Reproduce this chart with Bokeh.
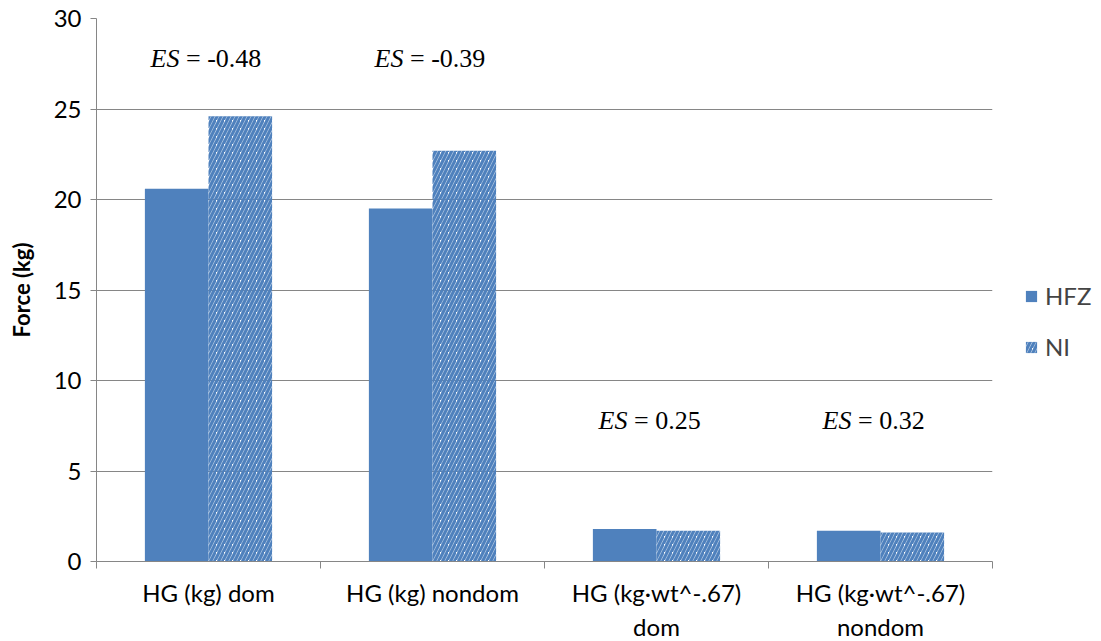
import numpy as np
from bokeh.plotting import figure
from bokeh.models import ColumnDataSource, FixedTicker, Legend, LegendItem, Range1d
from bokeh.core.properties import value
from bokeh.embed import file_html
from bokeh.resources import INLINE

categories = ["HG (kg) dom", "HG (kg) nondom", "HG (kg\u00b7wt^-.67)\ndom", "HG (kg\u00b7wt^-.67)\nnondom"]
hfz = [20.6, 19.5, 1.8, 1.7]
ni = [24.6, 22.7, 1.7, 1.6]
es_values = ["-0.48", "-0.39", "0.25", "0.32"]
es_y = [27.8, 27.8, 7.8, 7.8]

BLUE = "#4F81BD"
GRID = "#868686"
FONT = "Lato"
FS = "24px"

idx = np.arange(len(categories))
centers = idx + 0.5
bw = 0.284

p = figure(frame_width=896, frame_height=543, output_backend="svg", toolbar_location=None,
           x_range=Range1d(0, len(categories)), y_range=Range1d(0, 30),
           min_border_left=96, min_border_top=18, min_border_bottom=78, min_border_right=92)
p.outline_line_color = None
p.background_fill_color = "white"
p.border_fill_color = "white"

src = ColumnDataSource(dict(x_h=centers - bw / 2, x_n=centers + bw / 2, hfz=hfz, ni=ni))
r1 = p.vbar(x="x_h", top="hfz", width=bw, source=src, fill_color=BLUE, line_color=None)
r2 = p.vbar(x="x_n", top="ni", width=bw, source=src, fill_color="white", fill_alpha=0, line_color=None,
            hatch_pattern="/", hatch_color=BLUE, hatch_weight=3.2, hatch_scale=8)

es_src = ColumnDataSource(dict(x=centers, y=es_y, rest=["\u00a0=\u00a0" + v for v in es_values],
                               es=["ES"] * len(es_values)))
p.text(x="x", y="y", text="es", source=es_src, text_font=value("Liberation Serif"),
       text_font_style="italic", text_font_size="26px", text_align="right",
       text_baseline="middle", x_offset=-29)
p.text(x="x", y="y", text="rest", source=es_src, text_font=value("Liberation Serif"),
       text_font_size="26px", text_align="left", text_baseline="middle", x_offset=-29)

# axes
p.xaxis.ticker = FixedTicker(ticks=list(centers), minor_ticks=list(np.arange(len(categories) + 1)))
p.xaxis.major_label_overrides = {float(c): lab for c, lab in zip(centers, categories)}
p.xaxis.major_tick_line_color = None
p.xaxis.major_tick_out = 6
p.xaxis.minor_tick_line_color = GRID
p.xaxis.minor_tick_out = 7
p.xaxis.minor_tick_in = 0
p.xaxis.axis_line_color = GRID
p.xaxis.major_label_text_font = FONT
p.xaxis.major_label_text_font_size = FS
p.xaxis.major_label_text_color = "black"
p.xaxis.major_label_standoff = 9

p.yaxis.ticker = FixedTicker(ticks=[0, 5, 10, 15, 20, 25, 30])
p.yaxis.minor_tick_line_color = None
p.yaxis.major_tick_out = 6
p.yaxis.major_tick_in = 0
p.yaxis.major_tick_line_color = GRID
p.yaxis.axis_line_color = GRID
p.yaxis.major_label_text_font = FONT
p.yaxis.major_label_text_font_size = FS
p.yaxis.major_label_text_color = "black"
p.yaxis.major_label_standoff = 9
p.yaxis.axis_label = "Force (kg)"
p.yaxis.axis_label_text_font = FONT
p.yaxis.axis_label_text_font_style = "bold"
p.yaxis.axis_label_text_font_size = "22px"
p.yaxis.axis_label_text_color = "black"
p.yaxis.axis_label_standoff = 16

p.xgrid.grid_line_color = None
p.ygrid.grid_line_color = GRID
p.ygrid.grid_line_width = 1

legend = Legend(items=[LegendItem(label="HFZ", renderers=[r1]),
                       LegendItem(label="NI", renderers=[r2])],
                location=(32, 200), orientation="vertical")
legend.label_text_font = FONT
legend.label_text_font_size = FS
legend.glyph_width = 14
legend.glyph_height = 14
legend.spacing = 22
legend.border_line_color = None
legend.background_fill_alpha = 0
legend.padding = 0
legend.margin = 0
legend.label_standoff = 7
p.add_layout(legend, "right")

open("out.html", "w").write(file_html(p, INLINE))
